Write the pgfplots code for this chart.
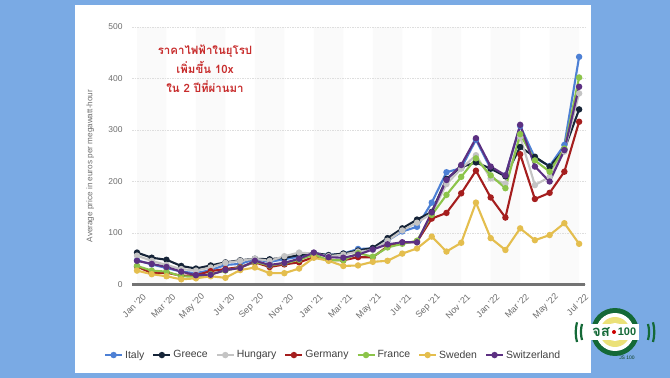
\documentclass[border=0pt]{standalone}
\usepackage{fontspec}
\setmainfont{Liberation Sans}
\newfontfamily\thaifont[Script=Thai]{Loma}
\usepackage{pgfplots}
\usepackage{pgfplotstable}
\pgfplotsset{compat=1.18}

\definecolor{bgblue}{RGB}{122,170,228}
\definecolor{cIt}{RGB}{77,128,213}
\definecolor{cGr}{RGB}{22,36,56}
\definecolor{cHu}{RGB}{196,196,196}
\definecolor{cDe}{RGB}{165,30,30}
\definecolor{cFr}{RGB}{140,196,74}
\definecolor{cSe}{RGB}{228,190,78}
\definecolor{cCh}{RGB}{92,48,130}
\definecolor{thred}{RGB}{200,45,45}
\definecolor{lblgray}{RGB}{110,110,110}
\definecolor{logogreen}{RGB}{20,105,55}
\definecolor{logoyellow}{RGB}{235,225,120}

\pgfplotstableread{
x  it  gr  hu  de  fr  se  ch
0  47  62  56  35  36  27  46
1  39  52  46  22  27  20  40
2  32  48  38  23  25  16  34
3  25  36  30  17  16  10  25
4  22  31  27  18  15  12  18
5  28  37  33  26  20  16  19
6  38  43  42  30  27  13  28
7  40  47  46  34  33  28  32
8  49  50  50  43  44  33  46
9  44  49  46  34  37  22  38
10 49  52  55  39  41  22  42
11 54  57  62  43  48  31  50
12 61  61  60  53  58  52  62
13 57  57  55  48  47  46  53
14 60  60  58  47  47  36  52
15 69  66  64  53  61  37  58
16 70  71  67  53  54  44  68
17 85  90  85  74  72  46  78
18 103 109 105 81  79  60  82
19 112 126 120 83  85  70  82
20 159 141 138 128 135 93  140
21 218 205 195 139 174 64  203
22 226 228 225 177 209 81  232
23 281 237 251 221 245 159 284
24 225 225 206 169 212 90  229
25 212 210 196 130 187 67  212
26 308 267 287 253 292 109 310
27 246 248 193 166 241 86  229
28 230 229 209 178 219 96  200
29 271 262 258 219 264 119 261
30 442 340 371 316 402 79  384
}\datatable

\begin{document}
\begin{tikzpicture}
\useasboundingbox (0bp,0bp) rectangle (670bp,378bp);
\fill[bgblue] (0bp,0bp) rectangle (670bp,378bp);
\fill[white] (75bp,5bp) rectangle (591bp,373bp);

% background bands
\begin{axis}[
  at={(132bp,93.5bp)}, anchor=south west,
  width=453bp, height=257.5bp, scale only axis,
  xmin=-0.34, xmax=30.4, ymin=0, ymax=500,
  hide axis,
]
\addplot[draw=none, fill=black!1.8, forget plot] coordinates {(0,0) (0,500) (2,500) (2,0)} \closedcycle;
\addplot[draw=none, fill=black!1.8, forget plot] coordinates {(4,0) (4,500) (6,500) (6,0)} \closedcycle;
\addplot[draw=none, fill=black!1.8, forget plot] coordinates {(8,0) (8,500) (10,500) (10,0)} \closedcycle;
\addplot[draw=none, fill=black!1.8, forget plot] coordinates {(12,0) (12,500) (14,500) (14,0)} \closedcycle;
\addplot[draw=none, fill=black!1.8, forget plot] coordinates {(16,0) (16,500) (18,500) (18,0)} \closedcycle;
\addplot[draw=none, fill=black!1.8, forget plot] coordinates {(20,0) (20,500) (22,500) (22,0)} \closedcycle;
\addplot[draw=none, fill=black!1.8, forget plot] coordinates {(24,0) (24,500) (26,500) (26,0)} \closedcycle;
\addplot[draw=none, fill=black!1.8, forget plot] coordinates {(28,0) (28,500) (30,500) (30,0)} \closedcycle;
\end{axis}

\begin{axis}[
  at={(132bp,93.5bp)}, anchor=south west,
  width=453bp, height=257.5bp, scale only axis,
  xmin=-0.34, xmax=30.4, ymin=0, ymax=500,
  xtick={0,2,...,30},
  xticklabels={Jan '20,Mar '20,May '20,Jul '20,Sep '20,Nov '20,Jan '21,Mar '21,May '21,Jul '21,Sep '21,Nov '21,Jan '22,Mar '22,May '22,Jul '22},
  ytick={0,100,...,500},
  axis x line*=bottom, axis y line*=left,
  y axis line style={draw=none},
  x axis line style={draw=black!55, line width=2bp},
  major tick length=0pt,
  ymajorgrids,
  major grid style={black!13, dash pattern=on 1.5bp off 1bp, line width=0.6bp},
  /pgf/number format/assume math mode=true,
  x tick label style={rotate=45, anchor=east, font=\fontsize{9}{10}\selectfont, text=lblgray, yshift=-13bp, xshift=1bp},
  y tick label style={font=\fontsize{8.5}{9}\selectfont, text=lblgray, xshift=-6bp},
  ylabel={Average price in euros per megawatt-hour},
  ylabel style={font=\fontsize{8.2}{9}\selectfont, text=lblgray, at={(axis description cs:-0.092,0.46)}, anchor=center},
  legend columns=7,
  legend style={at={(0.444,-0.274)}, anchor=center, draw=none, fill=none,
    font=\fontsize{10.5}{12}\selectfont, text=black!75,
    /tikz/every even column/.append style={column sep=6bp}},
  every axis plot/.append style={line width=2.1bp, mark=*, mark size=2.1bp},
]
\addplot[color=cIt] table[x=x,y=it] {\datatable};
\addlegendentry{Italy}
\addplot[color=cGr] table[x=x,y=gr] {\datatable};
\addlegendentry{Greece}
\addplot[color=cHu] table[x=x,y=hu] {\datatable};
\addlegendentry{Hungary}
\addplot[color=cDe] table[x=x,y=de] {\datatable};
\addlegendentry{Germany}
\addplot[color=cFr] table[x=x,y=fr] {\datatable};
\addlegendentry{France}
\addplot[color=cSe] table[x=x,y=se] {\datatable};
\addlegendentry{Sweden}
\addplot[color=cCh] table[x=x,y=ch] {\datatable};
\addlegendentry{Switzerland}
\end{axis}

\node[text=thred, align=center, font=\thaifont\bfseries\fontsize{11.5}{19}\selectfont] at (205bp,309bp)
  {ราคาไฟฟ้าในยุโรป\\เพิ่มขึ้น 10x\\ใน 2 ปีที่ผ่านมา};

% logo
\begin{scope}[shift={(615bp,46bp)}, x=1bp, y=1bp]
  \draw[logogreen, line width=2.2bp] (-38,-10) arc (195:165:38);
  \draw[logogreen, line width=2.2bp] (-33,-8) arc (195:165:31);
  \draw[logogreen, line width=2.2bp] (38,-10) arc (-15:15:38);
  \draw[logogreen, line width=2.2bp] (33,-8) arc (-15:15:31);
  \fill[logogreen] (0,0) circle (24);
  \fill[white] (0,0) circle (19);
  \fill[logoyellow] (0,0) circle (15);
  \fill[white] (0,0) circle (9);
  \fill[white] (-25,-8) rectangle (24,8);
  \node[text=logogreen, font=\thaifont\bfseries\fontsize{15}{15}\selectfont, inner sep=0] at (-14,0) {จส};
  \fill[red!80!black] (-1,0) circle (2);
  \node[text=logogreen, font=\bfseries\fontsize{11}{11}\selectfont, inner sep=0] at (12,0) {100};
  \node[text=logogreen!60!black, font=\fontsize{5}{5}\selectfont, inner sep=0] at (12,-26) {JS 100};
\end{scope}
\end{tikzpicture}
\end{document}
